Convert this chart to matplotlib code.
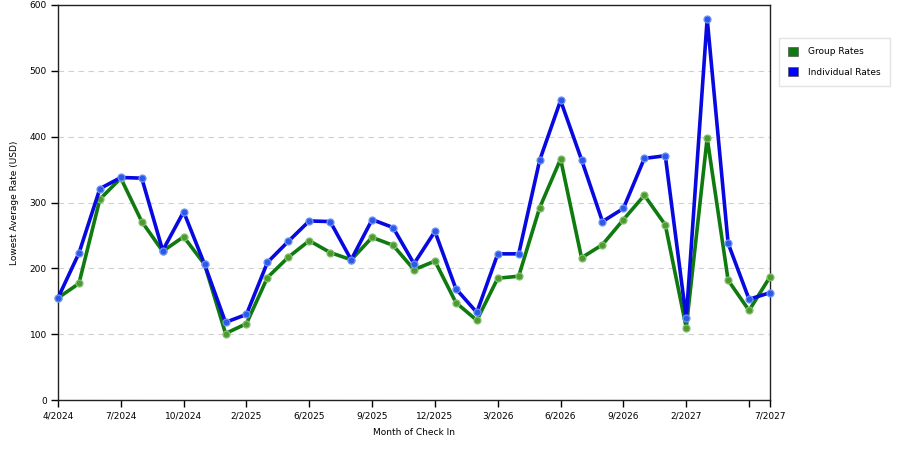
import matplotlib
matplotlib.use("Agg")
import matplotlib.pyplot as plt
from matplotlib.patches import Patch

months = ["4/2024", "5/2024", "6/2024", "7/2024", "8/2024", "9/2024", "10/2024",
          "11/2024", "12/2024", "2/2025", "3/2025", "4/2025", "6/2025", "7/2025",
          "8/2025", "9/2025", "10/2025", "11/2025", "12/2025", "1/2026", "2/2026",
          "3/2026", "4/2026", "5/2026", "6/2026", "7/2026", "8/2026", "9/2026",
          "10/2026", "11/2026", "2/2027", "3/2027", "4/2027", "5/2027", "7/2027"]

group_rates = [155, 177, 305, 337, 271, 226, 248, 206, 101, 116, 186, 217,
               242, 224, 213, 247, 235, 198, 211, 148, 121, 185, 188, 292,
               366, 216, 236, 274, 311, 266, 110, 398, 182, 136, 187]

individual_rates = [155, 223, 321, 338, 337, 227, 286, 206, 118, 130, 209, 241,
                    272, 271, 213, 274, 262, 207, 256, 169, 133, 222, 222, 364,
                    455, 365, 271, 291, 367, 371, 124, 579, 238, 153, 163]

tick_idx = [0, 3, 6, 9, 12, 15, 18, 21, 24, 27, 30, 33, 34]

plt.rcParams['font.family'] = ['DejaVu Sans']

fig = plt.figure(figsize=(9, 4.5), dpi=100)
ax = fig.add_axes([58/900, 1-400/450, (770-58)/900, 395/450])

x = list(range(len(months)))
green = '#0f7a0f'
blue = '#0808e0'
ax.plot(x, group_rates, color=green, lw=2.6, marker='o', ms=5,
        mfc='#4f9a2f', mec='#7fbf6f', mew=0.9, zorder=3, clip_on=False)
ax.plot(x, individual_rates, color=blue, lw=2.6, marker='o', ms=5,
        mfc='#2a5ae6', mec='#6f8fff', mew=0.9, zorder=4, clip_on=False)

ax.set_xlim(0, len(months) - 1)
ax.set_ylim(0, 600)
ax.set_yticks([0, 100, 200, 300, 400, 500, 600])
ax.set_xticks(tick_idx)
ax.set_xticklabels([months[i] if i != 33 else '' for i in tick_idx])
ax.tick_params(axis='both', direction='out', length=5, width=1, labelsize=6.5,
               colors='black', pad=3)
ax.yaxis.grid(True, color='#d0d0d0', ls=(0, (5, 4)), lw=0.8)
ax.set_axisbelow(True)
for s in ax.spines.values():
    s.set_color('#222222')
    s.set_linewidth(1)

ax.set_ylabel('Lowest Average Rate (USD)', fontsize=6.5, labelpad=8)
ax.set_xlabel('Month of Check In', fontsize=6.5, labelpad=6)

handles = [Patch(facecolor='#0f7a0f', edgecolor='#555555', lw=0.5, label='Group Rates'),
           Patch(facecolor='#0000ff', edgecolor='#555555', lw=0.5, label='Individual Rates')]
leg = fig.legend(handles=handles, loc='upper left', bbox_to_anchor=(779/900, 1-38/450),
                 fontsize=6.5, frameon=True, fancybox=False, handlelength=1.1,
                 handleheight=1.1, handletextpad=1.1, borderpad=1.0, labelspacing=1.2,
                 borderaxespad=0)
leg.get_frame().set_edgecolor('#dddddd')
leg.get_frame().set_linewidth(1)

fig.savefig('out.png', dpi=100)
